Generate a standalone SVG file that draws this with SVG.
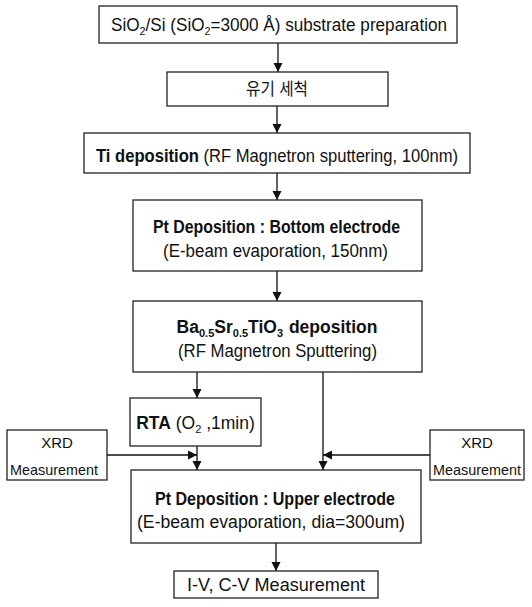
<svg xmlns="http://www.w3.org/2000/svg" width="532" height="607" viewBox="0 0 532 607">
<style>
.box{fill:#fff;stroke:#222;stroke-width:1.3}
.t{font-family:"Liberation Sans","Noto Sans CJK KR",sans-serif;font-size:17.5px;fill:#111}
.s{font-family:"Liberation Sans","Noto Sans CJK KR",sans-serif;font-size:15px;fill:#111}
.b{font-weight:bold}
.sub{font-size:11px}
.ln{stroke:#111;stroke-width:1.3;fill:none}
</style>
<defs>
<marker id="ah" viewBox="0 0 10 10" refX="10" refY="5" markerWidth="9" markerHeight="11" markerUnits="userSpaceOnUse" orient="auto">
<path d="M0,0 L10,5 L0,10 z" fill="#111"/>
</marker>
</defs>
<rect width="532" height="607" fill="#fff"/>
<g id="connectors">
<line class="ln" x1="278" y1="43" x2="278" y2="72" marker-end="url(#ah)"/>
<line class="ln" x1="277" y1="106" x2="277" y2="133" marker-end="url(#ah)"/>
<line class="ln" x1="277" y1="173" x2="277" y2="200" marker-end="url(#ah)"/>
<line class="ln" x1="277" y1="271" x2="277" y2="301" marker-end="url(#ah)"/>
<line class="ln" x1="197" y1="372" x2="197" y2="398" marker-end="url(#ah)"/>
<line class="ln" x1="323" y1="372" x2="323" y2="470" marker-end="url(#ah)"/>
<line class="ln" x1="197" y1="446" x2="197" y2="470" marker-end="url(#ah)"/>
<line class="ln" x1="107" y1="455" x2="197" y2="455" marker-end="url(#ah)"/>
<line class="ln" x1="430" y1="455" x2="323" y2="455" marker-end="url(#ah)"/>
<line class="ln" x1="276" y1="543" x2="276" y2="571" marker-end="url(#ah)"/>
</g>
<g id="substrate">
<rect class="box" x="99" y="6" width="358" height="37"/>
<text class="t" x="111" y="31" textLength="336" lengthAdjust="spacingAndGlyphs">SiO<tspan class="sub" dy="4">2</tspan><tspan dy="-4">/Si (SiO</tspan><tspan class="sub" dy="4">2</tspan><tspan dy="-4">=3000 Å) substrate preparation</tspan></text>
</g>
<g id="cleaning">
<rect class="box" x="167" y="72" width="221" height="34"/>
<text class="t" x="246" y="95" textLength="62" lengthAdjust="spacingAndGlyphs">유기 세척</text>
</g>
<g id="ti">
<rect class="box" x="84" y="133" width="386" height="40"/>
<text class="t" x="96" y="162" textLength="362" lengthAdjust="spacingAndGlyphs"><tspan class="b">Ti deposition</tspan> (RF Magnetron sputtering, 100nm)</text>
</g>
<g id="pt-bottom">
<rect class="box" x="133" y="200" width="289" height="71"/>
<text class="t b" x="153" y="233" textLength="247" lengthAdjust="spacingAndGlyphs">Pt Deposition : Bottom electrode</text>
<text class="t" x="163" y="257" textLength="225" lengthAdjust="spacingAndGlyphs">(E-beam evaporation, 150nm)</text>
</g>
<g id="bst">
<rect class="box" x="133" y="301" width="289" height="71"/>
<text class="t" x="277" y="333" text-anchor="middle"><tspan class="b">Ba</tspan><tspan class="sub b" dy="4">0.5</tspan><tspan class="b" dy="-4">Sr</tspan><tspan class="sub b" dy="4">0.5</tspan><tspan class="b" dy="-4">TiO</tspan><tspan class="sub b" dy="4">3</tspan><tspan class="b" dy="-4" dx="1"> deposition</tspan></text>
<text class="t" x="178" y="357" textLength="199" lengthAdjust="spacingAndGlyphs">(RF Magnetron Sputtering)</text>
</g>
<g id="rta">
<rect class="box" x="130" y="398" width="131" height="48"/>
<text class="t" x="195.5" y="429" text-anchor="middle"><tspan class="b">RTA</tspan> (O<tspan class="sub" dy="4">2</tspan><tspan dy="-4"> ,1min)</tspan></text>
</g>
<g id="xrd-left">
<rect class="box" x="7" y="430" width="100" height="50"/>
<text class="s" x="57" y="448" text-anchor="middle">XRD</text>
<text class="s" x="10" y="475" textLength="88" lengthAdjust="spacingAndGlyphs">Measurement</text>
</g>
<g id="xrd-right">
<rect class="box" x="430" y="430" width="94" height="50"/>
<text class="s" x="477" y="448" text-anchor="middle">XRD</text>
<text class="s" x="433" y="475" textLength="88" lengthAdjust="spacingAndGlyphs">Measurement</text>
</g>
<g id="pt-upper">
<rect class="box" x="131" y="470" width="290" height="73"/>
<text class="t b" x="155" y="505" textLength="240" lengthAdjust="spacingAndGlyphs">Pt Deposition : Upper electrode</text>
<text class="t" x="137" y="528" textLength="268" lengthAdjust="spacingAndGlyphs">(E-beam evaporation, dia=300um)</text>
</g>
<g id="iv-cv">
<rect class="box" x="174" y="571" width="204" height="27"/>
<text class="t" x="187" y="591" textLength="178" lengthAdjust="spacingAndGlyphs">I-V, C-V Measurement</text>
</g>
</svg>
